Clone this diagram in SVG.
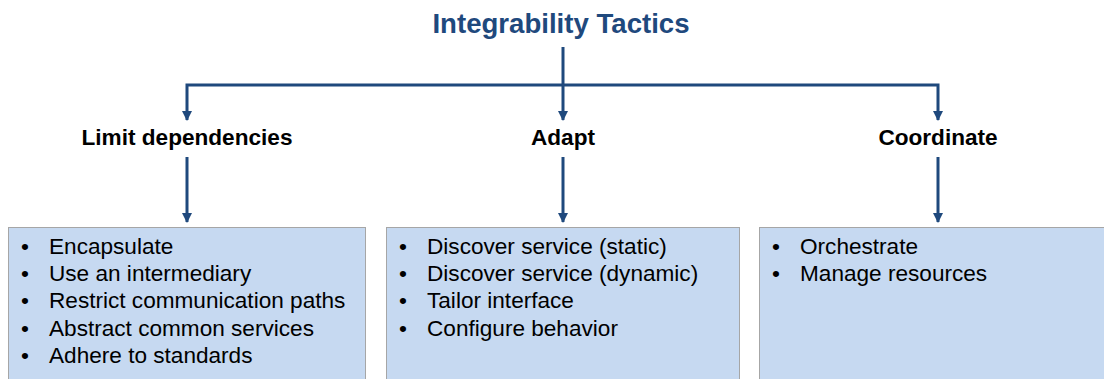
<svg xmlns="http://www.w3.org/2000/svg" width="1104" height="379" viewBox="0 0 1104 379">
<defs>
<marker id="ah" viewBox="0 0 10 10" refX="9" refY="5" markerWidth="10" markerHeight="10" markerUnits="userSpaceOnUse" orient="auto-start-reverse">
<path d="M0,0 L10,5 L0,10 Z" fill="#1F497D"/>
</marker>
</defs>
<style>
.title{font-family:"Liberation Sans",Arial,sans-serif;font-weight:bold;font-size:27.6px;fill:#1F497D}
.lbl{font-family:"Liberation Sans",Arial,sans-serif;font-weight:bold;font-size:22.6px;fill:#000}
.item{font-family:"Liberation Sans",Arial,sans-serif;font-size:22.6px;fill:#000}
.box{fill:#C6D9F1;stroke:#A6A6A6;stroke-width:1}
.conn{fill:none;stroke:#1F497D;stroke-width:3}
</style>
<rect width="1104" height="379" fill="#fff"/>
<g id="title"><text class="title" x="561" y="33" text-anchor="middle">Integrability Tactics</text></g>
<g id="connectors">
<path class="conn" d="M563,47 V85"/>
<path class="conn" d="M187,120 V85 H938 V120" marker-start="url(#ah)" marker-end="url(#ah)"/>
<path class="conn" d="M563,85 V120" marker-end="url(#ah)"/>
<path class="conn" d="M187,157 V222" marker-end="url(#ah)"/>
<path class="conn" d="M563,157 V222" marker-end="url(#ah)"/>
<path class="conn" d="M938,157 V222" marker-end="url(#ah)"/>
</g>
<g id="limit-dependencies"><text class="lbl" x="187" y="145" text-anchor="middle">Limit dependencies</text></g>
<g id="adapt"><text class="lbl" x="563" y="145" text-anchor="middle">Adapt</text></g>
<g id="coordinate"><text class="lbl" x="938" y="145" text-anchor="middle">Coordinate</text></g>
<g id="limit-list">
<rect class="box" x="8.5" y="227.5" width="357" height="153"/>
<text class="item"><tspan x="21" y="254">•</tspan><tspan x="49" y="254">Encapsulate</tspan>
<tspan x="21" y="281">•</tspan><tspan x="49" y="281">Use an intermediary</tspan>
<tspan x="21" y="308">•</tspan><tspan x="49" y="308">Restrict communication paths</tspan>
<tspan x="21" y="336">•</tspan><tspan x="49" y="336">Abstract common services</tspan>
<tspan x="21" y="363">•</tspan><tspan x="49" y="363">Adhere to standards</tspan></text>
</g>
<g id="adapt-list">
<rect class="box" x="386.5" y="227.5" width="353" height="153"/>
<text class="item"><tspan x="399" y="254">•</tspan><tspan x="427" y="254">Discover service (static)</tspan>
<tspan x="399" y="281">•</tspan><tspan x="427" y="281">Discover service (dynamic)</tspan>
<tspan x="399" y="308">•</tspan><tspan x="427" y="308">Tailor interface</tspan>
<tspan x="399" y="336">•</tspan><tspan x="427" y="336">Configure behavior</tspan></text>
</g>
<g id="coordinate-list">
<rect class="box" x="759.5" y="227.5" width="350" height="153"/>
<text class="item"><tspan x="772" y="254">•</tspan><tspan x="800" y="254">Orchestrate</tspan>
<tspan x="772" y="281">•</tspan><tspan x="800" y="281">Manage resources</tspan></text>
</g>
</svg>
